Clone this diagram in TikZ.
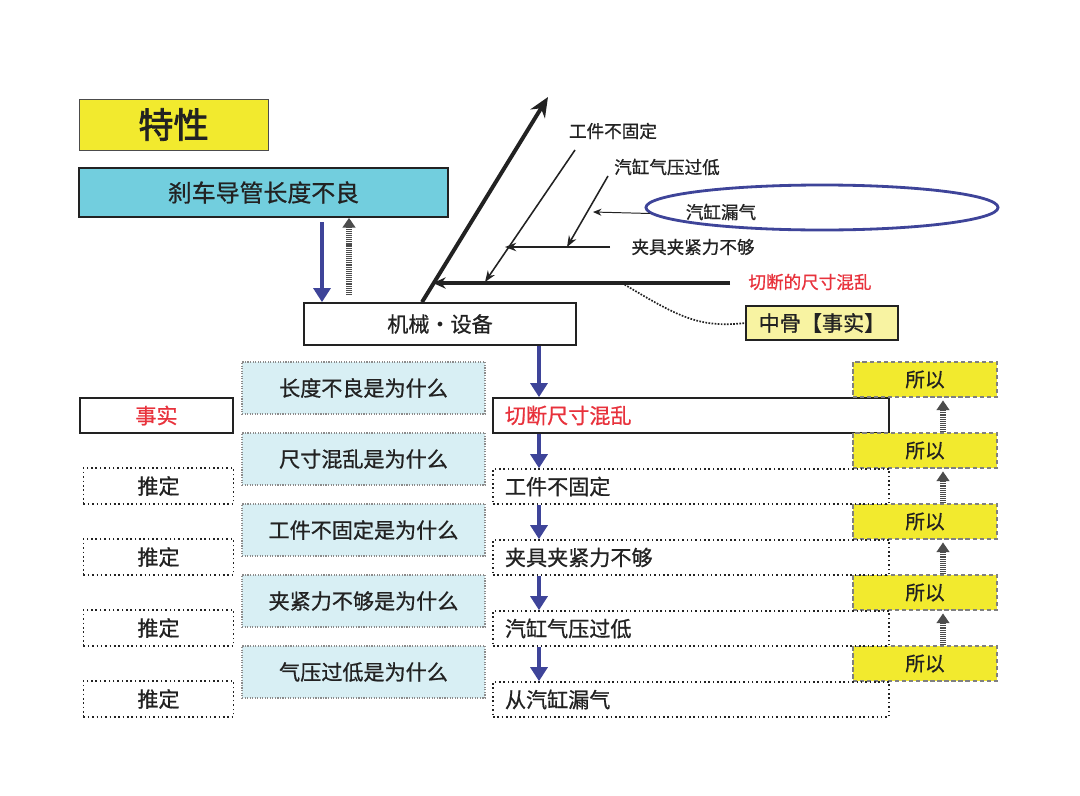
\documentclass[tikz,border=0pt]{standalone}
\usepackage{fontspec}
\setmainfont{Noto Sans CJK SC}
\newfontfamily\cjkmed{Noto Sans CJK SC}[FakeBold=0.8]
\newfontfamily\cjkheavy{Noto Sans CJK SC}[FakeBold=2.2]
\usetikzlibrary{arrows.meta,shapes.geometric}
\definecolor{titleyellow}{HTML}{F2EA2E}
\definecolor{headcyan}{HTML}{72CEDE}
\definecolor{askblue}{HTML}{D8EFF4}
\definecolor{boneyellow}{HTML}{F8F3A2}
\definecolor{flowblue}{HTML}{3E4499}
\definecolor{factred}{HTML}{E8323C}
\definecolor{inkgray}{HTML}{222222}

\begin{document}
\begin{tikzpicture}[x=0.025cm,y=-0.025cm,
  every node/.style={inner sep=0pt,text=inkgray,font=\cjkmed\fontsize{15}{18}\selectfont},
  solidbox/.style={draw=inkgray,line width=1.2pt,fill=white},
  guessbox/.style={draw=inkgray,line width=1.1pt,dotted,fill=white},
  askbox/.style={draw=black!45,line width=0.8pt,densely dotted,fill=askblue,minimum width=6.075cm,minimum height=1.3cm},
  sobox/.style={draw=black!50,line width=0.8pt,densely dashed,fill=titleyellow,minimum width=3.6cm,minimum height=0.875cm,font=\cjkmed\fontsize{14}{17}\selectfont},
  answerbox/.style={text width=9.3cm,align=left,inner xsep=0.3cm,minimum height=0.875cm},
  flowarrow/.style={draw=flowblue,line width=3.5pt,-{Triangle[width=12pt,length=10pt]}},
  hatcharrow/.style={draw=black!70,line width=4pt,dash pattern=on 0.8pt off 0.7pt,-{Triangle[width=9pt,length=7pt]}},
  bonelabel/.style={font=\cjkmed\fontsize{12.5}{15}\selectfont},
  thinbone/.style={draw=inkgray,line width=1.1pt,-{Stealth[width=6pt,length=8pt]}}
]
\fill[white] (0,0) rectangle (1080,796);
\useasboundingbox (0,0) rectangle (1080,796);

\node[draw=black!70,line width=0.6pt,fill=titleyellow,minimum width=4.725cm,minimum height=1.275cm,font=\cjkheavy\fontsize{25}{28}\selectfont] (trait) at (173.5,124.5) {特性};
\node[solidbox,fill=headcyan,minimum width=9.225cm,minimum height=1.225cm,font=\cjkmed\fontsize{17}{20}\selectfont] (brake) at (263.5,192.5) {刹车导管长度不良};
\node[solidbox,minimum width=6.8cm,minimum height=1.05cm] (mach) at (440,324) {机械・设备};
\node[solidbox,line width=1pt,fill=boneyellow,minimum width=3.8cm,minimum height=0.85cm] (mid) at (822,323) {中骨【事实】};

\path (322,0) coordinate (downx) (349,0) coordinate (upx) (422,0) coordinate (spinex)
      (539,0) coordinate (col) (943,0) coordinate (socol);

\draw[flowarrow] ([yshift=-3]brake.south -| downx) -- (mach.north -| downx);
\draw[hatcharrow] ([yshift=5]mach.north -| upx) -- (brake.south -| upx);

\coordinate (head) at (548,97);
\coordinate (b1r) at (730,283);
\coordinate (b1l) at (433,283);
\coordinate (b2t) at (575,150);
\coordinate (b2b) at (485,282);
\coordinate (b3r) at (610,247);
\coordinate (b3l) at (505,247);
\coordinate (b4t) at (608,176);
\coordinate (b4b) at (567,247);
\coordinate (b5l) at (593,212);

\draw[draw=inkgray,line width=2.8pt,-{Stealth[width=12pt,length=14pt]}] (mach.north -| spinex) -- (head);
\draw[draw=inkgray,line width=2.4pt,-{Stealth[width=8pt,length=9pt]}] (b1r) -- (b1l);
\draw[thinbone] (b2t) -- (b2b);
\draw[thinbone] (b3r) -- (b3l);
\draw[thinbone] (b4t) -- (b4b);

\node[draw=flowblue,line width=2pt,ellipse,minimum width=8.8cm,minimum height=1.125cm] (leak) at (822,207.5) {};
\draw[draw=inkgray,line width=0.7pt,-{Stealth[width=5pt,length=6pt]}] (leak.182) -- (b5l);

\node[bonelabel] (l1) at (613,131) {工件不固定};
\node[bonelabel] (l2) at (667,167) {汽缸气压过低};
\node[bonelabel] (l3) at (721,212) {汽缸漏气};
\node[bonelabel] (l4) at (693,247) {夹具夹紧力不够};
\node[bonelabel,text=factred] (l5) at (810,282) {切断的尺寸混乱};

\draw[draw=inkgray,line width=1.2pt,densely dotted] (622,283) .. controls (680,318) and (700,328) .. (mid.west);

\node[solidbox,minimum width=3.825cm,minimum height=0.875cm,text=factred] (fact) at (156.5,415.5) {事实};
\node[solidbox,answerbox,text=factred] (a1) at (691,415.5) {切断尺寸混乱};

\foreach \k/\top/\ask in {1/362/长度不良是为什么,2/433/尺寸混乱是为什么,3/504/工件不固定是为什么,4/575/夹紧力不够是为什么,5/646/气压过低是为什么}
{
\node[askbox] (q\k) at (363.5,\top+26) {\ask};
\node[sobox] (s\k) at (925,\top+17.5) {所以};
}

\foreach \k/\top/\ans in {2/433/工件不固定,3/504/夹具夹紧力不够,4/575/汽缸气压过低,5/646/从汽缸漏气}
{
\node[guessbox,minimum width=3.75cm,minimum height=0.9cm] (t\k) at (158.5,\top+53) {推定};
\node[guessbox,answerbox] (a\k) at (691,\top+53.5) {\ans};
}

\draw[flowarrow] (mach.south -| col) -- (a1.north -| col);
\foreach \k/\j in {1/2,2/3,3/4,4/5}
{
\draw[flowarrow] (a\k.south -| col) -- (a\j.north -| col);
\draw[hatcharrow] (s\j.north -| socol) -- ([yshift=-2]s\k.south -| socol);
}
\end{tikzpicture}
\end{document}
